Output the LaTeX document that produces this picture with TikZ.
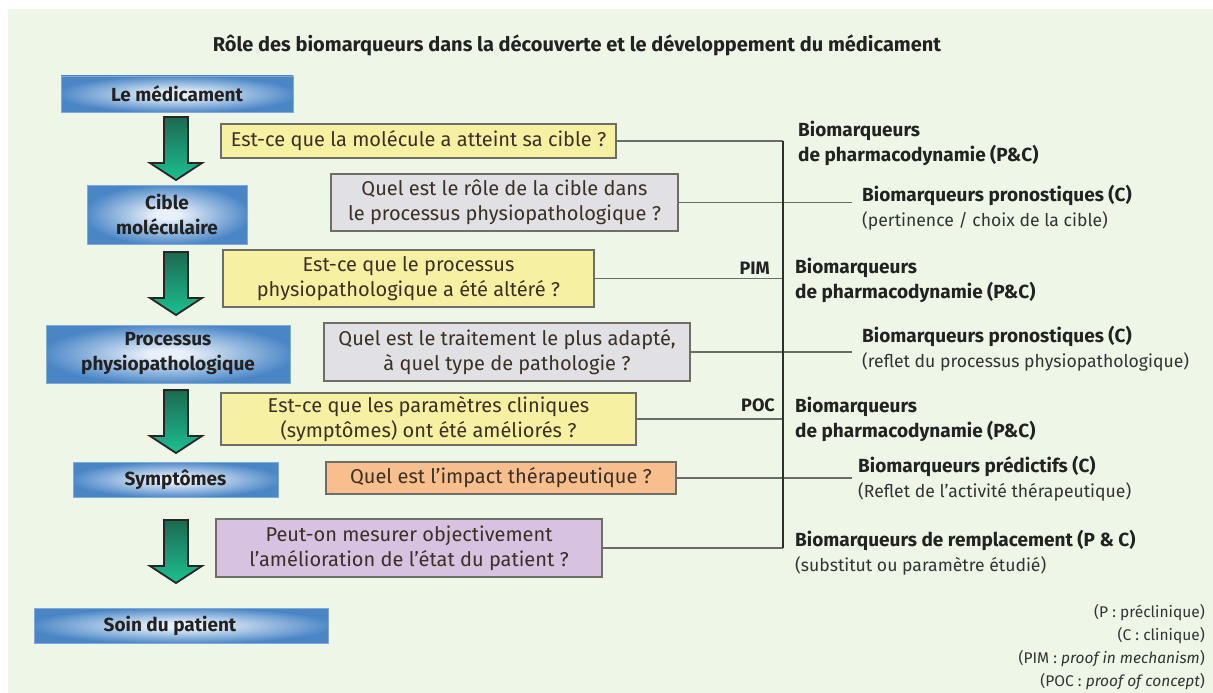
\documentclass[tikz,border=0pt]{standalone}
\usepackage{fontspec}
\setmainfont{Fira Sans}
\definecolor{bg}{HTML}{EEF6E8}
\definecolor{blu}{HTML}{4A86C6}
\definecolor{blulight}{HTML}{E8F0FA}
\definecolor{yel}{HTML}{F6F1A2}
\definecolor{gry}{HTML}{E1E0E4}
\definecolor{ora}{HTML}{F9BE8E}
\definecolor{pur}{HTML}{D7C3E1}
\definecolor{bord}{HTML}{6E6E66}
\definecolor{txt}{HTML}{3A3024}
\definecolor{dark}{HTML}{222222}
\definecolor{sub}{HTML}{333333}
\definecolor{grdark}{HTML}{1C6A50}
\definecolor{grlight}{HTML}{1CC092}
\definecolor{arrline}{HTML}{262626}
\definecolor{lin}{HTML}{6A6A6A}
\definecolor{vlin}{HTML}{2E2E2E}
\pgfdeclareradialshading{bluerad}{\pgfpoint{0bp}{0bp}}{color(0bp)=(blulight); color(4bp)=(blulight); color(26bp)=(blu); color(50bp)=(blu)}
\newcommand{\subfont}{\color{sub}\fontsize{17.6}{25}\selectfont}
\begin{document}
\begin{tikzpicture}[x=1pt,y=-1pt,
  qbox/.style={draw=bord, line width=1.3pt, inner sep=2pt, align=center, text=txt, font=\fontsize{20}{25}\selectfont},
  ybox/.style={qbox, fill=yel},
  gbox/.style={qbox, fill=gry},
  obox/.style={qbox, fill=ora},
  pbox/.style={qbox, fill=pur},
  bluebox/.style={shading=bluerad, draw=blu!70!white, line width=0.6pt, align=center, text=dark, font=\bfseries\fontsize{19}{25}\selectfont, inner sep=2pt},
  blab/.style={anchor=west, align=left, inner sep=0pt, text=dark, font=\fontsize{19}{25}\selectfont},
  tag/.style={anchor=east, inner sep=0pt, text=dark, font=\bfseries\fontsize{18}{25}\selectfont},
  conn/.style={draw=lin, line width=1.5pt},
  vconn/.style={draw=vlin, line width=2pt},
  downarrow/.pic={\path[draw=arrline, line width=1.8pt, line join=miter, top color=grdark, bottom color=grlight]
     (-12,0) -- (12,0) -- (12,46) -- (26,46) -- (0,63) -- (-26,46) -- (-12,46) -- cycle;}
]
\useasboundingbox (0,0) rectangle (1213,693);
\fill[white] (0,0) rectangle (1213,693);
\fill[bg] (8,9) rectangle (1213,693);

\node[inner sep=0pt, text=dark, font=\bfseries\fontsize{20}{25}\selectfont] (title) at (577,45) {Rôle des biomarqueurs dans la découverte et le développement du médicament};

% blue boxes
\node[bluebox, minimum width=232pt, minimum height=36pt] (med) at (177,94) {Le médicament};
\node[bluebox, minimum width=160pt, minimum height=59pt] (cib) at (167,214.5) {Cible\\moléculaire};
\node[bluebox, minimum width=244pt, minimum height=58pt] (pro) at (168,354) {Processus\\physiopathologique};
\node[bluebox, minimum width=205pt, minimum height=35pt] (sym) at (175.5,479.5) {Symptômes};
\node[bluebox, minimum width=294pt, minimum height=35pt] (soin) at (181,625.5) {\hspace*{-22pt}Soin du patient};

% arrows
\pic at (176,117) {downarrow};
\pic at (176,252) {downarrow};
\pic at (176,390) {downarrow};
\pic at (176,520) {downarrow};

% question boxes
\node[ybox, minimum width=395pt, minimum height=34pt] (y1) at (418.5,141) {Est-ce que la molécule a atteint sa cible ?};
\node[gbox, minimum width=347pt, minimum height=57pt] (g1) at (504.5,202.5) {Quel est le rôle de la cible dans\\le processus physiopathologique ?};
\node[ybox, minimum width=371pt, minimum height=57pt] (y2) at (408.5,278.5) {Est-ce que le processus\\physiopathologique a été altéré ?};
\node[gbox, minimum width=366pt, minimum height=58pt] (g2) at (507,352) {Quel est le traitement le plus adapté,\\à quel type de pathologie ?};
\node[ybox, minimum width=415pt, minimum height=52pt] (y3) at (428.5,419) {Est-ce que les paramètres cliniques\\(symptômes) ont été améliorés ?};
\node[obox, minimum width=350pt, minimum height=32pt] (o1) at (501,478) {Quel est l’impact thérapeutique ?};
\node[pbox, minimum width=386pt, minimum height=58pt] (p1) at (409,548) {Peut-on mesurer objectivement\\l’amélioration de l’état du patient ?};

% connectors
\coordinate (vtop) at (783,141);
\coordinate (vbot) at (783,548);
\coordinate (g1end) at (852,202.5);
\coordinate (g2end) at (852,352);
\coordinate (o1end) at (852,478);
\draw[conn] (y1.east) -- (vtop);
\draw[conn] (g1.east) -- (g1end);
\draw[conn] (y2.east) -- (y2.east -| vtop);
\draw[conn] (g2.east) -- (g2end);
\draw[conn] (y3.east) -- (y3.east -| vtop);
\draw[conn] (o1.east) -- (o1end);
\draw[conn] (p1.east) -- (vbot);
\draw[vconn] (vtop) -- (vbot);

% tags
\node[tag] (pim) at (770,268) {PIM};
\node[tag] (poc) at (775,405) {POC};

% right labels
\node[blab] (r1) at (798,143.5) {\textbf{Biomarqueurs}\\\textbf{de pharmacodynamie (P\&C)}};
\node[blab] (r2) at (862,207.5) {\textbf{Biomarqueurs pronostiques (C)}\\{\subfont(pertinence / choix de la cible)}};
\node[blab] (r3) at (795,280.5) {\textbf{Biomarqueurs}\\\textbf{de pharmacodynamie (P\&C)}};
\node[blab] (r4) at (862,348.5) {\textbf{Biomarqueurs pronostiques (C)}\\{\subfont(reflet du processus physiopathologique)}};
\node[blab] (r5) at (795,419) {\textbf{Biomarqueurs}\\\textbf{de pharmacodynamie (P\&C)}};
\node[blab] (r6) at (858,479) {\textbf{Biomarqueurs prédictifs (C)}\\{\subfont(Reflet de l’activité thérapeutique)}};
\node[blab] (r7) at (795,553) {\textbf{Biomarqueurs de remplacement (P \& C)}\\{\subfont(substitut ou paramètre étudié)}};

% legend
\node[anchor=east, align=right, inner sep=0pt, text=sub, font=\fontsize{15.5}{23}\selectfont] (leg) at (1205,647.5) {(P : préclinique)\\(C : clinique)\\(PIM : \textit{proof in mechanism})\\(POC : \textit{proof of concept})};
\end{tikzpicture}
\end{document}
